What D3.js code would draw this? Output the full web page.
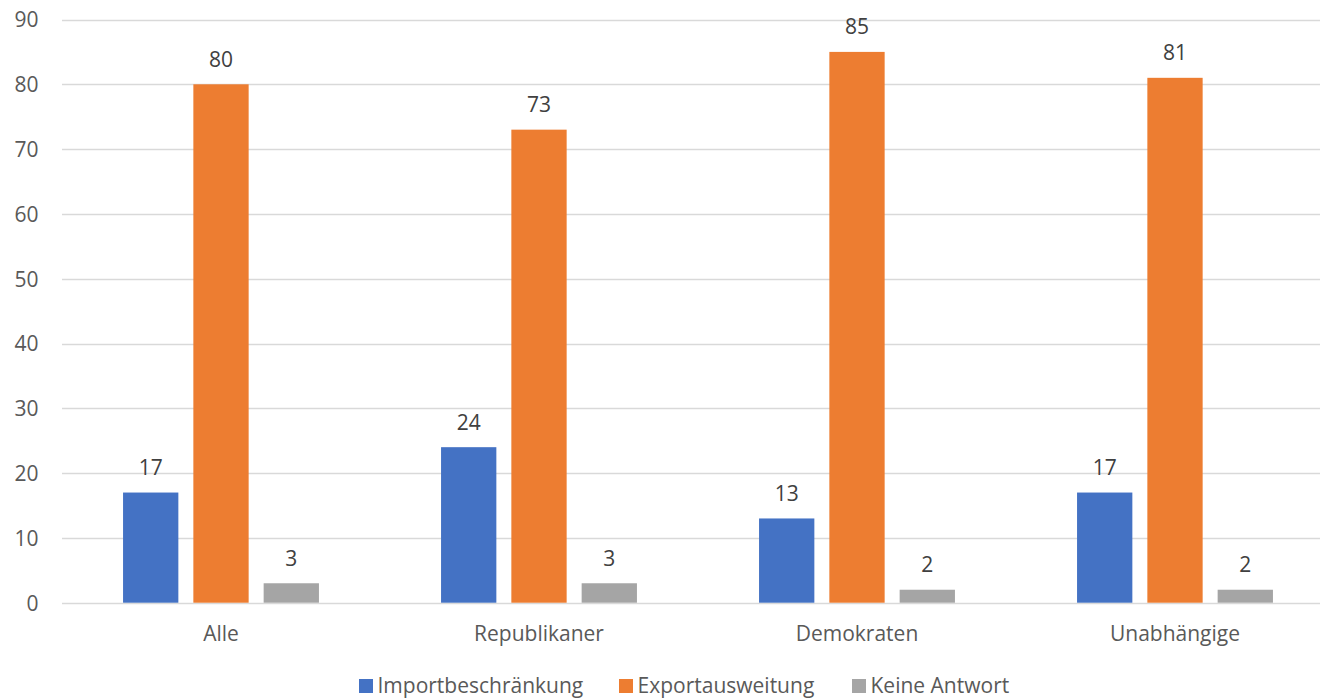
<!DOCTYPE html>
<html><head><meta charset="utf-8">
<script src="https://cdn.jsdelivr.net/npm/d3@7"></script>
<style>body{margin:0;background:#fff;} svg{display:block;font-family:"Open Sans","Noto Sans",sans-serif;}</style>
</head><body><svg id="c" width="1320" height="699"></svg>
<script>
const categories = ["Alle","Republikaner","Demokraten","Unabhängige"];
const seriesNames = ["Importbeschränkung","Exportausweitung","Keine Antwort"];
const importValues = [17,24,13,17];
const exportValues = [80,73,85,81];
const noAnswerValues = [3,3,2,2];
const yTicks = [0,10,20,30,40,50,60,70,80,90];
const colors = ["#4472C4","#ED7D31","#A5A5A5"];

(function(){
const FS = "21px";
const series = [importValues, exportValues, noAnswerValues];
const svg = d3.select("#c");
const pLeft = 62, pRight = 1334, pTop = 19.5, pBottom = 602.7;
const x = d3.scaleBand().domain(categories).range([pLeft,pRight]).paddingInner(0).paddingOuter(0);
const y = d3.scaleLinear().domain([0,90]).range([pBottom,pTop]);
const barW = 55.3, gap = 15;
const groupW = 3*barW + 2*gap;
const xs = d3.scaleBand().domain(d3.range(3)).range([0, groupW]).paddingInner(gap/(barW+gap)).paddingOuter(0);

svg.append("g").selectAll("line").data(yTicks).join("line")
  .attr("x1",pLeft).attr("x2",pRight)
  .attr("y1",d=>Math.round(y(d))+0.5).attr("y2",d=>Math.round(y(d))+0.5)
  .attr("stroke","#d9d9d9").attr("stroke-width",1.3);

const yAxis = d3.axisLeft(y).tickValues(yTicks).tickSize(0).tickPadding(0);
const ya = svg.append("g").attr("transform",`translate(38.5,0)`).call(yAxis);
ya.select(".domain").remove();
ya.selectAll("text").attr("fill","#595959").attr("dy","0.35em").style("font-size",FS).style("font-family","'Open Sans','Noto Sans',sans-serif");

const xAxis = d3.axisBottom(x).tickSize(0).tickPadding(0);
const xa = svg.append("g").attr("transform",`translate(0,641)`).call(xAxis);
xa.select(".domain").remove();
xa.selectAll("text").attr("fill","#595959").attr("y",0).attr("dy",0).style("font-size",FS).style("font-family","'Open Sans','Noto Sans',sans-serif");

series.forEach((vals,si)=>{
  const g = svg.append("g");
  g.selectAll("rect").data(vals).join("rect")
    .attr("x",(d,i)=>x(categories[i]) + (x.bandwidth()-groupW)/2 + xs(si))
    .attr("width",xs.bandwidth())
    .attr("y",d=>y(d)).attr("height",d=>y(0)-y(d))
    .attr("fill",colors[si]);
  g.selectAll("text").data(vals).join("text")
    .attr("x",(d,i)=>x(categories[i]) + (x.bandwidth()-groupW)/2 + xs(si) + xs.bandwidth()/2)
    .attr("y",d=>y(d)-17.6)
    .attr("text-anchor","middle")
    .attr("fill","#404040").style("font-size",FS)
    .text(d=>d);
});

const legendX = [359, 619, 852];
const lg = svg.append("g");
seriesNames.forEach((n,i)=>{
  lg.append("rect").attr("x",legendX[i]).attr("y",679).attr("width",14).attr("height",14).attr("fill",colors[i]);
  lg.append("text").attr("x",legendX[i]+18.5).attr("y",693)
    .attr("fill","#595959").style("font-size",FS).text(n);
});
})();
</script></body></html>
